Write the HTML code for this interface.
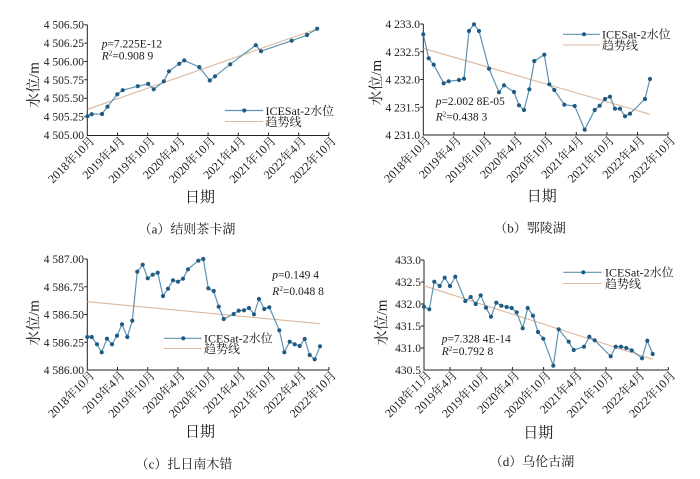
<!DOCTYPE html>
<html><head><meta charset="utf-8"><style>
html,body{margin:0;padding:0;background:#fff;}
svg{display:block;}
text{font-family:"Liberation Serif","Noto Serif CJK SC","Noto Sans CJK SC",serif;fill:#1a1a1a;}
.yt{font-size:11.5px;text-anchor:end;}
.xt{font-size:12px;text-anchor:end;}
.lg{font-size:12px;}
.an{font-size:11.5px;}
.ttl{font-size:15px;text-anchor:middle;}
.cap{font-size:13px;text-anchor:middle;}
.ser{fill:none;stroke:#5c93b2;stroke-width:1.2;}
.tr{fill:none;stroke:#dbb89f;stroke-width:1.1;}
.ax{stroke:#222;stroke-width:1;fill:none;}
</style></head><body>
<svg width="700" height="479" viewBox="0 0 700 479" xmlns="http://www.w3.org/2000/svg">

<!-- ========== Panel A ========== -->
<g>
<path class="ax" d="M87.3,24.7 V135.5 H329"/>
<g stroke="#222" stroke-width="1">
<path d="M84.3,24.7h3M84.3,43.1h3M84.3,61.5h3M84.3,79.8h3M84.3,98.2h3M84.3,116.6h3"/>
<path d="M117.5,135.5v-3M147.7,135.5v-3M177.9,135.5v-3M208.1,135.5v-3M238.3,135.5v-3M268.5,135.5v-3M298.7,135.5v-3M328.9,135.5v-3"/>
</g>
<text class="yt" x="84" y="28.7">4 506.50</text>
<text class="yt" x="84" y="47.1">4 506.25</text>
<text class="yt" x="84" y="65.5">4 506.00</text>
<text class="yt" x="84" y="83.8">4 505.75</text>
<text class="yt" x="84" y="102.2">4 505.50</text>
<text class="yt" x="84" y="120.6">4 505.25</text>
<text class="yt" x="84" y="139">4 505.00</text>
<g class="xt">
<text transform="translate(95.3,141.5) rotate(-45)">2018年10月</text>
<text transform="translate(125.5,141.5) rotate(-45)">2019年4月</text>
<text transform="translate(155.7,141.5) rotate(-45)">2019年10月</text>
<text transform="translate(185.9,141.5) rotate(-45)">2020年4月</text>
<text transform="translate(216.1,141.5) rotate(-45)">2020年10月</text>
<text transform="translate(246.3,141.5) rotate(-45)">2021年4月</text>
<text transform="translate(276.5,141.5) rotate(-45)">2021年10月</text>
<text transform="translate(306.7,141.5) rotate(-45)">2022年4月</text>
<text transform="translate(336.9,141.5) rotate(-45)">2022年10月</text>
</g>
<line class="tr" x1="87.5" y1="109.3" x2="316.7" y2="29"/>
<polyline class="ser" points="87.5,116.2 91.7,114.2 102,114 107.5,106.7 117.3,94.3 122.7,90.2 137.8,86.2 148.2,83.9 153.7,89.3 163.8,81.3 169,71.3 179.2,63.8 184.3,60.4 199.3,67.1 209.8,80.5 215,76.3 230.2,64.3 255.8,45.2 261,51.2 291.7,40.7 307,35 317.2,28.7"/>
<g fill="#1f5b82">
<circle cx="87.5" cy="116.2" r="2.1"/><circle cx="91.7" cy="114.2" r="2.1"/><circle cx="102" cy="114" r="2.1"/><circle cx="107.5" cy="106.7" r="2.1"/><circle cx="117.3" cy="94.3" r="2.1"/><circle cx="122.7" cy="90.2" r="2.1"/><circle cx="137.8" cy="86.2" r="2.1"/><circle cx="148.2" cy="83.9" r="2.1"/><circle cx="153.7" cy="89.3" r="2.1"/><circle cx="163.8" cy="81.3" r="2.1"/><circle cx="169" cy="71.3" r="2.1"/><circle cx="179.2" cy="63.8" r="2.1"/><circle cx="184.3" cy="60.4" r="2.1"/><circle cx="199.3" cy="67.1" r="2.1"/><circle cx="209.8" cy="80.5" r="2.1"/><circle cx="215" cy="76.3" r="2.1"/><circle cx="230.2" cy="64.3" r="2.1"/><circle cx="255.8" cy="45.2" r="2.1"/><circle cx="261" cy="51.2" r="2.1"/><circle cx="291.7" cy="40.7" r="2.1"/><circle cx="307" cy="35" r="2.1"/><circle cx="317.2" cy="28.7" r="2.1"/>
</g>
<line class="ser" x1="225" y1="110.5" x2="263" y2="110.5"/><circle cx="244.3" cy="110.5" r="2.1" fill="#1f5b82"/>
<text class="lg" x="265.5" y="114.8">ICESat-2水位</text>
<line class="tr" x1="225" y1="121.5" x2="263" y2="121.5"/>
<text class="lg" x="265.5" y="126">趋势线</text>
<text class="an" x="101.7" y="47.3"><tspan font-style="italic">p</tspan>=7.225E-12</text>
<text class="an" x="101.7" y="59.3"><tspan font-style="italic">R</tspan><tspan font-size="7" dy="-4">2</tspan><tspan dy="4">=0.908 9</tspan></text>
<text class="ttl" transform="translate(38.5,85) rotate(-90)">水位/m</text>
<text class="ttl" x="200" y="202">日期</text>
<text class="cap" x="187" y="233.5">（a）结则茶卡湖</text>
</g>

<!-- ========== Panel B ========== -->
<g>
<path class="ax" d="M423.3,24 V135 H668.3"/>
<g stroke="#222" stroke-width="1">
<path d="M420.3,24h3M420.3,51.75h3M420.3,79.5h3M420.3,107.25h3"/>
<path d="M453.9,135v-3M484.5,135v-3M515.1,135v-3M545.7,135v-3M576.3,135v-3M606.9,135v-3M637.5,135v-3M668.1,135v-3"/>
</g>
<text class="yt" x="420" y="28">4 233.0</text>
<text class="yt" x="420" y="55.75">4 232.5</text>
<text class="yt" x="420" y="83.5">4 232.0</text>
<text class="yt" x="420" y="111.25">4 231.5</text>
<text class="yt" x="420" y="139">4 231.0</text>
<g class="xt">
<text transform="translate(431.3,141) rotate(-45)">2018年10月</text>
<text transform="translate(461.9,141) rotate(-45)">2019年4月</text>
<text transform="translate(492.5,141) rotate(-45)">2019年10月</text>
<text transform="translate(523.1,141) rotate(-45)">2020年4月</text>
<text transform="translate(553.7,141) rotate(-45)">2020年10月</text>
<text transform="translate(584.3,141) rotate(-45)">2021年4月</text>
<text transform="translate(614.9,141) rotate(-45)">2021年10月</text>
<text transform="translate(645.5,141) rotate(-45)">2022年4月</text>
<text transform="translate(676.1,141) rotate(-45)">2022年10月</text>
</g>
<line class="tr" x1="423.3" y1="48.3" x2="650" y2="114.3"/>
<polyline class="ser" points="423.3,34.3 428.7,58.3 433.7,64.7 443.7,83.3 448.7,81.3 459,80 464,78.7 469,31 474,24.3 479,31 489,68.7 499,92.3 504,85.3 514,92 519,105.3 524,110 529.3,89.3 534.3,61 544.3,54.7 549.3,84.3 554.3,90 564.3,104.7 574.7,106 584.7,129.7 594.7,110 599.7,105.7 605,99 610,96.7 615,108.7 620,108.7 625,116.3 630,113.7 645,99 650,79"/>
<g fill="#1f5b82">
<circle cx="423.3" cy="34.3" r="2.1"/><circle cx="428.7" cy="58.3" r="2.1"/><circle cx="433.7" cy="64.7" r="2.1"/><circle cx="443.7" cy="83.3" r="2.1"/><circle cx="448.7" cy="81.3" r="2.1"/><circle cx="459" cy="80" r="2.1"/><circle cx="464" cy="78.7" r="2.1"/><circle cx="469" cy="31" r="2.1"/><circle cx="474" cy="24.3" r="2.1"/><circle cx="479" cy="31" r="2.1"/><circle cx="489" cy="68.7" r="2.1"/><circle cx="499" cy="92.3" r="2.1"/><circle cx="504" cy="85.3" r="2.1"/><circle cx="514" cy="92" r="2.1"/><circle cx="519" cy="105.3" r="2.1"/><circle cx="524" cy="110" r="2.1"/><circle cx="529.3" cy="89.3" r="2.1"/><circle cx="534.3" cy="61" r="2.1"/><circle cx="544.3" cy="54.7" r="2.1"/><circle cx="549.3" cy="84.3" r="2.1"/><circle cx="554.3" cy="90" r="2.1"/><circle cx="564.3" cy="104.7" r="2.1"/><circle cx="574.7" cy="106" r="2.1"/><circle cx="584.7" cy="129.7" r="2.1"/><circle cx="594.7" cy="110" r="2.1"/><circle cx="599.7" cy="105.7" r="2.1"/><circle cx="605" cy="99" r="2.1"/><circle cx="610" cy="96.7" r="2.1"/><circle cx="615" cy="108.7" r="2.1"/><circle cx="620" cy="108.7" r="2.1"/><circle cx="625" cy="116.3" r="2.1"/><circle cx="630" cy="113.7" r="2.1"/><circle cx="645" cy="99" r="2.1"/><circle cx="650" cy="79" r="2.1"/>
</g>
<line class="ser" x1="563" y1="34.3" x2="600" y2="34.3"/><circle cx="584" cy="34.3" r="2.1" fill="#1f5b82"/>
<text class="lg" x="602" y="38.6">ICESat-2水位</text>
<line class="tr" x1="563" y1="45" x2="600" y2="45"/>
<text class="lg" x="602" y="49.5">趋势线</text>
<text class="an" x="435.7" y="105"><tspan font-style="italic">p</tspan>=2.002 8E-05</text>
<text class="an" x="435.7" y="120.7"><tspan font-style="italic">R</tspan><tspan font-size="7" dy="-4">2</tspan><tspan dy="4">=0.438 3</tspan></text>
<text class="ttl" transform="translate(381,82.7) rotate(-90)">水位/m</text>
<text class="ttl" x="541.7" y="201">日期</text>
<text class="cap" x="530" y="232.5">（b）鄂陵湖</text>
</g>

<!-- ========== Panel C ========== -->
<g>
<path class="ax" d="M87.3,259 V370 H329"/>
<g stroke="#222" stroke-width="1">
<path d="M84.3,259h3M84.3,286.75h3M84.3,314.5h3M84.3,342.25h3"/>
<path d="M117.5,370v-3M147.7,370v-3M177.9,370v-3M208.1,370v-3M238.3,370v-3M268.5,370v-3M298.7,370v-3M328.9,370v-3"/>
</g>
<text class="yt" x="84" y="263">4 587.00</text>
<text class="yt" x="84" y="290.75">4 586.75</text>
<text class="yt" x="84" y="318.5">4 586.50</text>
<text class="yt" x="84" y="346.25">4 586.25</text>
<text class="yt" x="84" y="374">4 586.00</text>
<g class="xt">
<text transform="translate(95.3,376) rotate(-45)">2018年10月</text>
<text transform="translate(125.5,376) rotate(-45)">2019年4月</text>
<text transform="translate(155.7,376) rotate(-45)">2019年10月</text>
<text transform="translate(185.9,376) rotate(-45)">2020年4月</text>
<text transform="translate(216.1,376) rotate(-45)">2020年10月</text>
<text transform="translate(246.3,376) rotate(-45)">2021年4月</text>
<text transform="translate(276.5,376) rotate(-45)">2021年10月</text>
<text transform="translate(306.7,376) rotate(-45)">2022年4月</text>
<text transform="translate(336.9,376) rotate(-45)">2022年10月</text>
</g>
<line class="tr" x1="87.3" y1="301.7" x2="320" y2="323.7"/>
<polyline class="ser" points="87.3,337 91.7,337 97,344.3 101.7,352.3 107,338.7 112,344.3 117,335.7 122,324.3 127.3,337 132.3,320.7 137.3,271.7 142.7,264.7 147.7,278.3 152.7,274.7 157.7,272.7 163,296 168,288.7 173,280.3 178,281.7 183,278.7 188,269.3 198.3,260.7 203.3,259 208.3,288.3 213.7,291 218.7,306.7 223.7,319 233.7,314 238.7,310.7 244,310.3 249,308 254,314.3 259,299 264.3,309 269.3,307.3 279.3,330.3 284.3,352.3 289.7,341.7 294.7,344.3 299.7,346 304.7,339 309.7,355 314.7,359.3 320,346.3"/>
<g fill="#1f5b82">
<circle cx="87.3" cy="337" r="2.1"/><circle cx="91.7" cy="337" r="2.1"/><circle cx="97" cy="344.3" r="2.1"/><circle cx="101.7" cy="352.3" r="2.1"/><circle cx="107" cy="338.7" r="2.1"/><circle cx="112" cy="344.3" r="2.1"/><circle cx="117" cy="335.7" r="2.1"/><circle cx="122" cy="324.3" r="2.1"/><circle cx="127.3" cy="337" r="2.1"/><circle cx="132.3" cy="320.7" r="2.1"/><circle cx="137.3" cy="271.7" r="2.1"/><circle cx="142.7" cy="264.7" r="2.1"/><circle cx="147.7" cy="278.3" r="2.1"/><circle cx="152.7" cy="274.7" r="2.1"/><circle cx="157.7" cy="272.7" r="2.1"/><circle cx="163" cy="296" r="2.1"/><circle cx="168" cy="288.7" r="2.1"/><circle cx="173" cy="280.3" r="2.1"/><circle cx="178" cy="281.7" r="2.1"/><circle cx="183" cy="278.7" r="2.1"/><circle cx="188" cy="269.3" r="2.1"/><circle cx="198.3" cy="260.7" r="2.1"/><circle cx="203.3" cy="259" r="2.1"/><circle cx="208.3" cy="288.3" r="2.1"/><circle cx="213.7" cy="291" r="2.1"/><circle cx="218.7" cy="306.7" r="2.1"/><circle cx="223.7" cy="319" r="2.1"/><circle cx="233.7" cy="314" r="2.1"/><circle cx="238.7" cy="310.7" r="2.1"/><circle cx="244" cy="310.3" r="2.1"/><circle cx="249" cy="308" r="2.1"/><circle cx="254" cy="314.3" r="2.1"/><circle cx="259" cy="299" r="2.1"/><circle cx="264.3" cy="309" r="2.1"/><circle cx="269.3" cy="307.3" r="2.1"/><circle cx="279.3" cy="330.3" r="2.1"/><circle cx="284.3" cy="352.3" r="2.1"/><circle cx="289.7" cy="341.7" r="2.1"/><circle cx="294.7" cy="344.3" r="2.1"/><circle cx="299.7" cy="346" r="2.1"/><circle cx="304.7" cy="339" r="2.1"/><circle cx="309.7" cy="355" r="2.1"/><circle cx="314.7" cy="359.3" r="2.1"/><circle cx="320" cy="346.3" r="2.1"/>
</g>
<line class="ser" x1="164" y1="338.3" x2="201.7" y2="338.3"/><circle cx="183.3" cy="338.3" r="2.1" fill="#1f5b82"/>
<text class="lg" x="204" y="342.6">ICESat-2水位</text>
<line class="tr" x1="164" y1="348.5" x2="201.7" y2="348.5"/>
<text class="lg" x="204" y="353">趋势线</text>
<text class="an" x="272.3" y="278.3"><tspan font-style="italic">p</tspan>=0.149 4</text>
<text class="an" x="272.3" y="295"><tspan font-style="italic">R</tspan><tspan font-size="7" dy="-4">2</tspan><tspan dy="4">=0.048 8</tspan></text>
<text class="ttl" transform="translate(38.5,323) rotate(-90)">水位/m</text>
<text class="ttl" x="200" y="436.5">日期</text>
<text class="cap" x="184" y="468.5">（c）扎日南木错</text>
</g>

<!-- ========== Panel D ========== -->
<g>
<path class="ax" d="M424,260 V370 H668.3"/>
<g stroke="#222" stroke-width="1">
<path d="M421,260h3M421,282h3M421,304h3M421,326h3M421,348h3"/>
<path d="M450,370v-3M481.2,370v-3M512.4,370v-3M543.6,370v-3M574.8,370v-3M606,370v-3M637.2,370v-3M668.3,370v-3"/>
</g>
<text class="yt" x="421" y="264">433.0</text>
<text class="yt" x="421" y="286">432.5</text>
<text class="yt" x="421" y="308">432.0</text>
<text class="yt" x="421" y="330">431.5</text>
<text class="yt" x="421" y="352">431.0</text>
<text class="yt" x="421" y="374">430.5</text>
<g class="xt">
<text transform="translate(432,376) rotate(-45)">2018年11月</text>
<text transform="translate(458,376) rotate(-45)">2019年4月</text>
<text transform="translate(489.2,376) rotate(-45)">2019年10月</text>
<text transform="translate(520.4,376) rotate(-45)">2020年4月</text>
<text transform="translate(551.6,376) rotate(-45)">2020年10月</text>
<text transform="translate(582.8,376) rotate(-45)">2021年4月</text>
<text transform="translate(614,376) rotate(-45)">2021年10月</text>
<text transform="translate(645.2,376) rotate(-45)">2022年4月</text>
<text transform="translate(676.3,376) rotate(-45)">2022年10月</text>
</g>
<line class="tr" x1="424" y1="285.7" x2="652.7" y2="359.3"/>
<polyline class="ser" points="424,306.7 429.3,309.3 434.3,281.7 439.7,286 444.7,277.7 450,286 455.3,276.7 465.3,301 470.7,297 475.7,304 480.7,295.3 486,307.7 491,316.7 496.3,302.7 501.3,305.7 506.7,307 511.7,308 516.7,312.3 522.7,328.3 527.7,308 533,315.7 538,332 543.3,338.7 553.3,365.7 558.7,329.3 568.7,341.7 573.7,350 584,346.7 589.3,336.7 594.7,340.3 610.7,356.3 615.7,346.7 621,346.7 626.3,348 631.7,350.3 642,358.3 647.3,340.7 652.7,354"/>
<g fill="#1f5b82">
<circle cx="424" cy="306.7" r="2.1"/><circle cx="429.3" cy="309.3" r="2.1"/><circle cx="434.3" cy="281.7" r="2.1"/><circle cx="439.7" cy="286" r="2.1"/><circle cx="444.7" cy="277.7" r="2.1"/><circle cx="450" cy="286" r="2.1"/><circle cx="455.3" cy="276.7" r="2.1"/><circle cx="465.3" cy="301" r="2.1"/><circle cx="470.7" cy="297" r="2.1"/><circle cx="475.7" cy="304" r="2.1"/><circle cx="480.7" cy="295.3" r="2.1"/><circle cx="486" cy="307.7" r="2.1"/><circle cx="491" cy="316.7" r="2.1"/><circle cx="496.3" cy="302.7" r="2.1"/><circle cx="501.3" cy="305.7" r="2.1"/><circle cx="506.7" cy="307" r="2.1"/><circle cx="511.7" cy="308" r="2.1"/><circle cx="516.7" cy="312.3" r="2.1"/><circle cx="522.7" cy="328.3" r="2.1"/><circle cx="527.7" cy="308" r="2.1"/><circle cx="533" cy="315.7" r="2.1"/><circle cx="538" cy="332" r="2.1"/><circle cx="543.3" cy="338.7" r="2.1"/><circle cx="553.3" cy="365.7" r="2.1"/><circle cx="558.7" cy="329.3" r="2.1"/><circle cx="568.7" cy="341.7" r="2.1"/><circle cx="573.7" cy="350" r="2.1"/><circle cx="584" cy="346.7" r="2.1"/><circle cx="589.3" cy="336.7" r="2.1"/><circle cx="594.7" cy="340.3" r="2.1"/><circle cx="610.7" cy="356.3" r="2.1"/><circle cx="615.7" cy="346.7" r="2.1"/><circle cx="621" cy="346.7" r="2.1"/><circle cx="626.3" cy="348" r="2.1"/><circle cx="631.7" cy="350.3" r="2.1"/><circle cx="642" cy="358.3" r="2.1"/><circle cx="647.3" cy="340.7" r="2.1"/><circle cx="652.7" cy="354" r="2.1"/>
</g>
<line class="ser" x1="563.3" y1="272.3" x2="601.7" y2="272.3"/><circle cx="583.3" cy="272.3" r="2.1" fill="#1f5b82"/>
<text class="lg" x="605" y="276.6">ICESat-2水位</text>
<line class="tr" x1="563.3" y1="283.5" x2="601.7" y2="283.5"/>
<text class="lg" x="605" y="288">趋势线</text>
<text class="an" x="441.7" y="342.3"><tspan font-style="italic">p</tspan>=7.328 4E-14</text>
<text class="an" x="441.7" y="355"><tspan font-style="italic">R</tspan><tspan font-size="7" dy="-4">2</tspan><tspan dy="4">=0.792 8</tspan></text>
<text class="ttl" transform="translate(386.5,322.5) rotate(-90)">水位/m</text>
<text class="ttl" x="538.3" y="437.5">日期</text>
<text class="cap" x="532" y="466">（d）乌伦古湖</text>
</g>
</svg>
</body></html>
